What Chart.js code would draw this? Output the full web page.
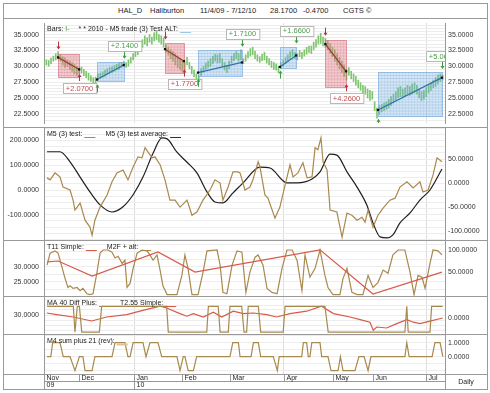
<!DOCTYPE html>
<html>
<head>
<meta charset="utf-8">
<title>HAL_D Haliburton</title>
<script src="https://cdn.jsdelivr.net/npm/chart.js@4.4.1/dist/chart.umd.min.js"></script>
<style>
  body { margin: 0; background: #fff; font-family: "Liberation Sans", Arial, sans-serif; }
  #frame { position: absolute; left: 3px; top: 3px; width: 483px; height: 385px; border: 1px solid #999; }
  #title { position: absolute; left: 4px; top: 4px; width: 483px; height: 14px; border-bottom: 1px solid #999; font-size: 7.5px; color: #222; }
  #title span { position: absolute; top: 2px; line-height: 9px; white-space: nowrap; }
  canvas { position: absolute; left: 4px; }
  .sep { position: absolute; left: 4px; width: 483px; height: 1px; background: #999; }
</style>
</head>
<body>
<div id="frame"></div>
<div id="title">
  <span style="left:114px">HAL_D</span>
  <span style="left:146px">Haliburton</span>
  <span style="left:196px">11/4/09 - 7/12/10</span>
  <span style="left:266px">28.1700</span>
  <span style="left:299px">-0.4700</span>
  <span style="left:339px">CGTS ©</span>
</div>
<canvas id="p1" width="483" height="108" style="top:19px"></canvas>
<div class="sep" style="top:127px"></div>
<canvas id="p2" width="483" height="112" style="top:128px"></canvas>
<div class="sep" style="top:240px"></div>
<canvas id="p3" width="483" height="55" style="top:241px"></canvas>
<div class="sep" style="top:296px"></div>
<canvas id="p4" width="483" height="37" style="top:297px"></canvas>
<div class="sep" style="top:334px"></div>
<canvas id="p5" width="483" height="54" style="top:335px"></canvas>
<script>
// time axis (trading day index)
const monthLabels = ['Nov', 'Dec', 'Jan', 'Feb', 'Mar', 'Apr', 'May', 'Jun', 'Jul'];
const monthDays = [0, 14.9, 38.4, 58.8, 79.3, 102.3, 123.2, 140.3, 162.9];
const yearLabels = ['09', '', '10', '', '', '', '', '', ''];
const quarterDays = [38.4, 102.3, 162.9];

// daily price bars
const barLows = [30.0,30.2,30.0,30.4,30.8,31.0,31.2,30.8,30.2,29.8, 30.0,29.5,29.2,28.8,28.6,28.8,28.9,28.5,28.2,27.8,
  27.6,27.2,27.3,27.9,28.1,28.3,28.4,28.7,28.9,29.0, 29.2,29.4,29.5,29.8,29.9,29.8,30.0,30.5,31.0,31.5,
  31.8,32.5,33.0,33.5,33.2,33.8,33.5,34.0,34.2,33.8, 33.5,33.0,32.2,31.8,31.2,30.8,30.2,29.8,29.5,29.2,
  29.4,30.2,29.6,28.8,28.3,27.8,27.3,28.5,29.0,29.5, 29.8,30.0,30.4,30.8,30.5,30.6,30.0,29.4,29.0,29.6,
  30.5,30.9,31.2,30.8,31.0,30.4,30.8,31.3,31.6,31.8, 31.2,30.8,30.6,30.9,31.0,30.5,30.2,29.8,29.5,29.4,
  29.0,29.6,30.0,30.4,30.8,31.2,31.6,31.2,31.0,31.5, 31.2,31.6,31.9,32.2,32.0,32.6,33.0,33.5,33.6,33.2,
  33.0,32.6,32.0,31.5,30.8,30.2,29.6,29.0,28.4,27.8, 28.6,28.0,27.6,27.0,26.6,26.2,25.8,25.6,25.0,24.6,
  24.8,23.0,21.8,22.4,22.8,23.0,23.2,23.4,23.8,24.2, 24.6,25.0,25.2,25.0,25.3,25.6,25.4,25.6,25.8,25.6,
  25.0,24.6,24.8,25.2,25.8,26.2,26.6,26.8,27.2,27.6, 27.8];
const barHighs = [30.8,31.0,30.9,31.3,31.6,32.0,32.3,31.8,31.5,31.3, 31.0,30.8,30.6,30.3,30.0,29.8,29.9,29.5,29.2,28.9,
  28.5,28.2,28.3,28.8,28.9,29.1,29.4,29.6,29.8,29.9, 30.1,30.3,30.5,30.6,30.8,30.6,31.0,31.4,32.0,32.4,
  32.8,33.5,34.2,34.8,34.5,35.0,34.6,35.3,35.5,35.0, 34.8,34.4,33.4,33.0,32.6,32.3,32.0,31.6,31.3,30.8,
  30.6,31.4,30.6,30.0,29.4,28.8,28.5,29.6,30.0,30.5, 30.8,31.2,31.6,31.9,31.8,32.0,31.2,30.6,30.2,30.8,
  31.6,32.0,32.3,32.0,32.6,31.2,31.8,32.3,32.8,33.0, 32.4,31.8,31.5,31.9,32.2,31.6,31.2,30.8,30.6,30.4,
  30.0,30.6,31.0,31.4,31.8,32.3,32.6,32.2,32.0,32.5, 32.2,32.6,33.0,33.2,33.2,33.8,34.2,34.8,35.2,34.6,
  34.4,34.0,33.6,33.0,32.6,32.0,31.4,30.8,30.2,29.6, 29.8,29.2,28.8,28.4,27.8,27.4,27.0,26.8,26.4,26.2,
  26.0,24.4,23.4,23.8,24.0,24.2,24.4,24.8,25.2,25.6, 26.0,26.6,26.8,26.4,26.6,27.0,26.8,27.2,27.4,27.0,
  26.4,26.0,26.2,26.6,27.0,27.4,27.8,28.2,28.6,28.8, 28.6];

// M5 trades
const tradeSide = ['short', 'long', 'short', 'long', 'long', 'short', 'long'];
const tradeStart = [6, 22.6, 51.6, 65.7, 100.6, 120, 142.4];
const tradeEnd = [15, 34, 59.7, 84.4, 107.5, 128.8, 169.7];
const tradeEntry = [31.4, 27.9, 32.7, 29.0, 29.9, 33.5, 23.1];
const tradeExit = [29.5, 30.2, 30.8, 30.6, 31.7, 29.2, 28.2];
const tradeBoxLow = [28.3, 27.6, 29.0, 28.5, 29.8, 26.7, 22.2];
const tradeBoxHigh = [32.0, 30.7, 33.6, 32.6, 33.1, 34.2, 29.1];
const tradeGain = ['+2.0700', '+2.1400', '+1.7700', '+1.7100', '+1.6600', '+4.2600', '+5.0600'];

// M5 (3) test / average
const m5Test = [[1.3,49],[2.6,41],[4.7,69],[6.8,53],[8.1,12],[11.1,0],[12.4,-41],[13.2,-81],[15.4,-53],[17.5,-122],
  [19.6,-150],[20.5,-183],[21.7,-122],[23.9,-69],[26.9,-20],[29.0,33],[31.1,69],[33.7,81],[35.8,41],[38.0,93],
  [40.1,134],[41.8,130],[43.1,171],[44.3,154],[46.1,130],[47.3,134],[49.5,102],[51.6,41],[53.7,-41],[55.9,-41],
  [58.0,-69],[61.0,-41],[63.1,-102],[65.2,-89],[67.8,-41],[70.8,0],[72.9,41],[75.1,28],[76.3,-41],[78.5,12],
  [80.6,73],[82.7,73],[83.6,69],[85.7,0],[87.8,12],[89.1,41],[91.3,114],[92.1,93],[94.2,-20],[95.5,-33],
  [98.5,-114],[100.6,-69],[102.8,20],[104.9,102],[106.2,53],[108.3,69],[110.4,110],[112.2,49],[114.3,53],[115.6,171],
  [116.8,163],[118.1,211],[119.0,114],[120.7,81],[122.0,-81],[124.9,-89],[127.1,-190],[129.2,-93],[131.3,-102],[133.5,-122],
  [135.6,-110],[136.9,-130],[138.2,-81],[140.3,-150],[142.4,-102],[144.6,-73],[147.5,-41],[149.7,-33],[151.8,12],[154.8,33],
  [157.4,8],[160.3,33],[161.6,-8],[163.8,0],[165.9,61],[167.6,130],[169.7,114]];
const m5Average = [[1.3,66],[6.8,66],[11.1,45],[15.4,13],[19.6,-18],[23.9,-45],[29.0,-60],[33.7,-49],[38.0,-24],[42.2,13],
  [46.5,63],[50.3,95],[52.5,93],[56.7,65],[61.0,44],[65.2,22],[69.5,-18],[72.9,-39],[76.3,-41],[80.6,-20],
  [84.9,1],[92.1,34],[96.4,32],[103.6,1],[107.9,1],[114.3,9],[117.7,24],[122.0,61],[124.9,59],[129.2,24],
  [133.5,-8],[137.7,-46],[140.3,-83],[143.3,-112],[146.3,-114],[148.8,-108],[151.8,-83],[156.1,-62],[160.3,-35],[164.6,-14],
  [169.7,30]];

// T11 Simple / M2F + alt
const t11Simple = [[1.3,31.6],[6.0,31.9],[20.5,26.9],[48.6,34.9],[64.4,28.2],[117.7,35.6],[140.3,20.9],[169.7,28.2]];
const m2fAlt = [[1.3,66],[2.6,93],[4.7,98],[6.0,93],[7.7,61],[9.0,36],[10.2,16],[11.1,20],[12.4,14],[14.1,16],
  [15.4,9],[16.6,14],[18.3,2],[19.6,0],[20.9,2],[22.6,50],[23.9,93],[25.2,100],[27.3,100],[29.0,95],
  [30.3,82],[31.6,86],[33.3,70],[34.5,77],[35.4,16],[36.7,25],[38.0,59],[39.7,93],[41.8,100],[43.9,98],
  [45.2,89],[46.5,77],[48.2,89],[49.5,55],[50.7,20],[52.5,0],[56.7,0],[58.8,43],[60.1,89],[61.4,59],
  [63.1,0],[65.7,0],[67.8,50],[69.5,98],[73.8,100],[75.1,66],[76.3,5],[78.0,2],[80.2,66],[82.3,98],
  [84.4,95],[86.1,5],[87.8,50],[90.0,84],[91.3,89],[93.4,66],[95.1,14],[97.2,5],[99.4,2],[101.5,59],
  [103.6,100],[105.8,100],[107.9,77],[110.0,9],[111.3,89],[113.4,39],[115.6,59],[117.7,100],[119.8,43],[121.1,16],
  [123.2,0],[126.2,0],[127.5,36],[129.2,59],[131.3,5],[133.5,0],[136.0,0],[138.2,43],[140.3,16],[142.4,27],
  [144.6,55],[146.7,48],[148.8,89],[151.0,100],[153.9,100],[156.1,50],[157.8,0],[159.5,43],[161.2,39],[162.5,14],
  [164.6,70],[165.9,100],[168.0,98],[169.7,89]];

// MA 40 Diff Plus / T2.55 Simple
const ma40Diff = [[1.3,1],[12.5,1],[13.2,-1.15],[14.2,1],[15.1,1],[16.1,-1.15],[23.6,-1.15],[24.6,1],[52.3,1],[53.0,-1.15],
  [69.4,-1.15],[70.1,1],[74.3,1],[75.1,-1.15],[78.6,-1.15],[79.3,1],[84.3,1],[85.3,-1.15],[86.4,-1.15],[87.1,1],
  [91.4,1],[92.4,-1.15],[102.0,-1.15],[102.8,1],[119.8,1],[121.2,-1.15],[153.9,-1.15],[154.7,1],[155.3,-1.15],[164.6,-1.15],
  [165.3,1],[170,1]];
const t255Simple = [[1.2,31.0],[5.4,30.2],[12.5,29.0],[20.3,27.0],[26.7,29.0],[35.3,30.2],[40.9,31.9],[49.5,34.4],[52.3,33.5],[58.0,30.7],
  [60.9,29.4],[63.7,30.7],[67.9,29.0],[72.2,31.4],[75.8,29.0],[80.7,31.9],[85.0,30.7],[89.3,31.0],[95.0,30.2],[99.2,29.0],
  [104.9,30.7],[112.0,31.9],[118.4,34.4],[123.4,30.7],[130.5,29.0],[134.8,27.7],[139.0,26.4],[140.4,22.4],[141.9,24.0],[146.1,23.5],
  [150.4,25.7],[154.7,27.7],[157.5,26.4],[160.3,25.7],[164.6,26.9],[170,28.5]];

// M4 sum plus 21 (rev)
const m4Sum = [[1.3,0],[2.9,0],[3.7,1],[6.8,1],[8.2,0],[11.1,0],[13.2,-1],[15.1,0],[16.6,0],[17.5,-1],
  [20.5,-1],[21.7,0],[29.0,0],[30.3,1],[34.5,1],[35.8,0],[36.7,0],[38.0,1],[42.2,1],[43.5,0],
  [43.9,0],[45.2,1],[48.6,1],[50.2,0],[56.7,0],[58.0,-1],[59.4,0],[60.1,0],[61.5,-1],[63.7,-1],
  [65.1,0],[79.3,0],[80.5,1],[82.9,1],[83.6,0],[88.3,0],[89.3,1],[91.4,1],[92.4,0],[97.8,0],
  [99.5,-1],[100.3,0],[109.9,0],[110.6,1],[112.0,1],[112.7,0],[113.4,0],[114.2,1],[117.7,1],[118.4,0],
  [121.1,0],[122.4,-1],[125.4,-1],[126.4,0],[127.5,-1],[132.6,-1],[134.3,0],[136.5,0],[138.2,-1],[139.4,0],
  [153.9,0],[154.7,1],[155.7,0],[165.5,0],[166.7,1],[168.9,1],[170.1,0]];

// axis labels
const priceTicks = [22.5, 25, 27.5, 30, 32.5, 35];
const m5LeftTicks = [-100, 0, 100, 200];
const m5RightTicks = [-100, -50, 0, 50];
const t11LeftTicks = [25, 30];
const t11RightTicks = [50, 100];
const ma40LeftTicks = [30];
const ma40RightTicks = [0];
const m4RightTicks = [0, 1];

const FONT = '"Liberation Sans", Arial, sans-serif';
const TAN = '#a8894e';
const RED = '#d65a4a';
const BAR_GREEN = '#80c46f';

function gridValues(min, max, step) {
  const out = [];
  for (let v = Math.ceil(min / step) * step; v <= max + 1e-9; v += step) out.push(+v.toFixed(4));
  return out;
}

function yAxis(pos, min, max, labels, step, width) {
  return {
    type: 'linear', position: pos, min: min, max: max, bounds: 'data',
    afterBuildTicks: s => { s.ticks = (step ? gridValues(min, max, step) : labels).map(v => ({ value: v })); },
    afterFit: s => { s.width = width; s.paddingTop = 0; s.paddingBottom = 0; },
    ticks: {
      autoSkip: false, padding: pos === 'left' ? 5 : 3, color: '#333',
      font: { family: FONT, size: 7 },
      callback: v => labels.some(l => Math.abs(l - v) < 1e-6) ? v.toFixed(4) : ''
    },
    grid: { display: !!step, color: '#ededed', drawTicks: false },
    border: { display: true, color: '#999' }
  };
}

function xAxis(height) {
  return {
    type: 'linear', min: 0, max: 171, bounds: 'data', offset: false,
    afterBuildTicks: s => { s.ticks = quarterDays.map(v => ({ value: v })); },
    afterFit: s => { s.height = height; s.paddingLeft = 0; s.paddingRight = 0; },
    ticks: { display: false },
    grid: { color: '#dedede', drawTicks: false, offset: false },
    border: { display: false }
  };
}

function options(y, y2, xHeight) {
  return {
    responsive: false, animation: false, events: [],
    layout: { padding: 0 },
    plugins: { legend: { display: false }, tooltip: { enabled: false } },
    elements: { point: { radius: 0 }, line: { borderWidth: 1.2 } },
    scales: { x: xAxis(xHeight || 0), y: y, y2: y2 }
  };
}

function legendPlugin(parts) {
  return {
    id: 'panelLegend',
    afterDraw(chart) {
      const { ctx, chartArea: a } = chart;
      ctx.save();
      ctx.font = '7px ' + FONT;
      ctx.textBaseline = 'middle';
      ctx.textAlign = 'left';
      let x = a.left + 3;
      const y = a.top + 6;
      parts.forEach(p => {
        ctx.fillStyle = p.color || '#222';
        ctx.fillText(p.text, x, y);
        x += ctx.measureText(p.text).width;
        if (p.swatch) {
          x += 2;
          ctx.strokeStyle = p.swatch;
          ctx.lineWidth = p.thick ? 2 : 1;
          ctx.beginPath();
          ctx.moveTo(x, y + 3.5);
          ctx.lineTo(x + 11, y + 3.5);
          ctx.stroke();
          x += 11;
        }
        x += p.gap != null ? p.gap : 10;
      });
      ctx.restore();
    }
  };
}

function arrow(ctx, x, yTail, yTip, color) {
  const d = yTip > yTail ? 1 : -1;
  ctx.strokeStyle = color;
  ctx.fillStyle = color;
  ctx.lineWidth = 1;
  ctx.beginPath();
  ctx.moveTo(x, yTail);
  ctx.lineTo(x, yTip - 2 * d);
  ctx.stroke();
  ctx.beginPath();
  ctx.moveTo(x - 2, yTip - 3 * d);
  ctx.lineTo(x + 2, yTip - 3 * d);
  ctx.lineTo(x, yTip);
  ctx.closePath();
  ctx.fill();
}

// boxes go over the bars, arrows and gain labels on top of everything
const tradePlugin = {
  id: 'trades',
  afterDatasetDraw(chart, args) {
    if (args.index !== 0) return;
    const { ctx, chartArea: a, scales: { x, y } } = chart;
    ctx.save();
    ctx.beginPath();
    ctx.rect(a.left, a.top, a.right - a.left, a.bottom - a.top);
    ctx.clip();
    tradeSide.forEach((side, i) => {
      const x0 = Math.round(x.getPixelForValue(tradeStart[i])) + 0.5;
      const x1 = Math.round(x.getPixelForValue(tradeEnd[i])) + 0.5;
      const yT = Math.round(y.getPixelForValue(tradeBoxHigh[i])) + 0.5;
      const yB = Math.round(y.getPixelForValue(tradeBoxLow[i])) + 0.5;
      const short = side === 'short';
      ctx.fillStyle = short ? 'rgba(228,120,132,0.40)' : 'rgba(118,176,228,0.32)';
      ctx.fillRect(x0, yT, x1 - x0, yB - yT);
      ctx.strokeStyle = short ? 'rgba(205,90,105,0.55)' : 'rgba(95,155,215,0.55)';
      ctx.lineWidth = 1;
      ctx.strokeRect(x0, yT, x1 - x0, yB - yT);
      ctx.strokeStyle = short ? 'rgba(200,90,100,0.12)' : 'rgba(90,150,210,0.12)';
      ctx.beginPath();
      for (let gx = x0 + 3; gx < x1; gx += 3) { ctx.moveTo(gx, yT); ctx.lineTo(gx, yB); }
      for (let gy = yT + 3; gy < yB; gy += 3) { ctx.moveTo(x0, gy); ctx.lineTo(x1, gy); }
      ctx.stroke();
    });
    ctx.restore();
  },
  afterDatasetsDraw(chart) {
    const { ctx, chartArea: a, scales: { x, y } } = chart;
    ctx.save();
    ctx.beginPath();
    ctx.rect(a.left, a.top, a.right - a.left, a.bottom - a.top);
    ctx.clip();
    tradeSide.forEach((side, i) => {
      const x0 = Math.round(x.getPixelForValue(tradeStart[i])) + 0.5;
      const x1 = Math.round(x.getPixelForValue(tradeEnd[i])) + 0.5;
      const yT = y.getPixelForValue(tradeBoxHigh[i]);
      const yB = y.getPixelForValue(tradeBoxLow[i]);
      const short = side === 'short';
      const aRed = '#b5333d', aGreen = '#3f9a3f';
      let ly;
      if (short) {
        arrow(ctx, x0, yT - 12, yT - 4, aRed);
        arrow(ctx, x1, yB + 4, yB - 3, aRed);
        ly = yB + 11;
      } else {
        arrow(ctx, x0, yB + 11, yB + 3, aGreen);
        arrow(ctx, x1, yT - 11, yT - 3, aGreen);
        ly = yT - 16;
      }
      ctx.font = '7.5px ' + FONT;
      const w = ctx.measureText(tradeGain[i]).width + 6, h = 10;
      const lx = Math.round(x1 - w / 2) + 0.5, lyy = Math.round(ly - h / 2) + 0.5;
      ctx.fillStyle = '#fff';
      ctx.fillRect(lx, lyy, w, h);
      ctx.strokeStyle = '#b8b8b8';
      ctx.lineWidth = 1;
      ctx.strokeRect(lx, lyy, w, h);
      ctx.fillStyle = short ? '#c0504d' : '#4c9c4c';
      ctx.textAlign = 'center';
      ctx.textBaseline = 'middle';
      ctx.fillText(tradeGain[i], x1, ly + 0.5);
    });
    ctx.restore();
  }
};

const timeAxis = {
  id: 'timeAxis',
  afterDraw(chart) {
    const { ctx, chartArea: a, scales: { x } } = chart;
    const W = chart.width, H = chart.height;
    const top = a.bottom + 0.5, mid = a.bottom + 7.5;
    ctx.save();
    ctx.strokeStyle = '#999';
    ctx.lineWidth = 1;
    ctx.beginPath();
    ctx.moveTo(0, top); ctx.lineTo(W, top);
    ctx.moveTo(a.left, mid); ctx.lineTo(a.right, mid);
    ctx.moveTo(a.left + 0.5, top); ctx.lineTo(a.left + 0.5, H);
    ctx.moveTo(a.right + 0.5, top); ctx.lineTo(a.right + 0.5, H);
    ctx.stroke();
    ctx.font = '7px ' + FONT;
    ctx.fillStyle = '#222';
    ctx.textBaseline = 'middle';
    ctx.textAlign = 'left';
    monthDays.forEach((d, i) => {
      const px = Math.round(x.getPixelForValue(d)) + 0.5;
      ctx.beginPath();
      ctx.moveTo(px, top);
      ctx.lineTo(px, yearLabels[i] ? H : mid);
      ctx.stroke();
      ctx.fillText(monthLabels[i], px + 2, top + 4);
      if (yearLabels[i]) ctx.fillText(yearLabels[i], px + 2, mid + 4);
    });
    ctx.textAlign = 'center';
    ctx.fillText('Daily', (a.right + W) / 2, top + 8);
    ctx.restore();
  }
};

// Panel 1: price bars + trades
new Chart(document.getElementById('p1'), {
  type: 'bar',
  data: {
    datasets: [
      {
        type: 'bar', order: 2, yAxisID: 'y',
        data: barLows.map((lo, i) => ({ x: i, y: [lo, barHighs[i]] })),
        backgroundColor: BAR_GREEN, borderWidth: 0, barThickness: 1
      }
    ].concat(tradeSide.map((side, i) => ({
      type: 'line', order: 1, yAxisID: 'y',
      data: [{ x: tradeStart[i], y: tradeEntry[i] }, { x: tradeEnd[i], y: tradeExit[i] }],
      borderColor: side === 'short' ? '#a8323c' : '#2f72b0', borderWidth: 1.2,
      pointStyle: 'rect', pointRadius: 1.6, pointBackgroundColor: '#111', pointBorderWidth: 0
    })))
  },
  options: options(
    yAxis('left', 21.04, 36.83, priceTicks, 0.5, 40),
    yAxis('right', 21.04, 36.83, priceTicks, 0, 42)
  ),
  plugins: [tradePlugin, legendPlugin([
    { text: 'Bars: ', gap: 0 },
    { text: 'I-', color: '#3f9a3f', gap: 9 },
    { text: '* * 2010 - M5 trade (3) Test ALT:', swatch: '#9cc8ea' }
  ])]
});

// Panel 2: M5 (3) test
new Chart(document.getElementById('p2'), {
  type: 'line',
  data: {
    datasets: [
      { data: m5Test, borderColor: TAN, yAxisID: 'y' },
      { data: m5Average, borderColor: '#1e1e1e', yAxisID: 'y2', cubicInterpolationMode: 'monotone' }
    ]
  },
  options: options(
    yAxis('left', -202, 250.5, m5LeftTicks, 25, 40),
    yAxis('right', -118.6, 115.7, m5RightTicks, 0, 42)
  ),
  plugins: [legendPlugin([
    { text: 'M5 (3) test:', swatch: TAN },
    { text: 'M5 (3) test average:', swatch: '#333' }
  ])]
});

// Panel 3: T11 Simple / M2F + alt
new Chart(document.getElementById('p3'), {
  type: 'line',
  data: {
    datasets: [
      { data: t11Simple, borderColor: RED, yAxisID: 'y' },
      { data: m2fAlt, borderColor: TAN, yAxisID: 'y2' }
    ]
  },
  options: options(
    yAxis('left', 20.23, 38.57, t11LeftTicks, 2.5, 40),
    yAxis('right', -3.1, 120.2, t11RightTicks, 0, 42)
  ),
  plugins: [legendPlugin([
    { text: 'T11 Simple:', swatch: RED },
    { text: 'M2F + alt:', swatch: TAN }
  ])]
});

// Panel 4: MA 40 Diff Plus / T2.55 Simple
new Chart(document.getElementById('p4'), {
  type: 'line',
  data: {
    datasets: [
      { data: ma40Diff, borderColor: TAN, yAxisID: 'y2' },
      { data: t255Simple, borderColor: RED, yAxisID: 'y' }
    ]
  },
  options: options(
    yAxis('left', 20.5, 39, ma40LeftTicks, 2.5, 40),
    yAxis('right', -1.31, 1.775, ma40RightTicks, 0, 42)
  ),
  plugins: [legendPlugin([
    { text: 'MA 40 Diff Plus:', swatch: TAN },
    { text: 'T2.55 Simple:', swatch: RED }
  ])]
});

// Panel 5: M4 sum plus 21 (rev) + time axis
new Chart(document.getElementById('p5'), {
  type: 'line',
  data: {
    datasets: [
      { data: m4Sum, borderColor: TAN, yAxisID: 'y2' }
    ]
  },
  options: options(
    yAxis('left', -1.24, 1.55, [], 0.5, 40),
    yAxis('right', -1.24, 1.55, m4RightTicks, 0, 42),
    15
  ),
  plugins: [legendPlugin([
    { text: 'M4 sum plus 21 (rev):', swatch: '#d9c49a', thick: true }
  ]), timeAxis]
});
</script>
</body>
</html>
